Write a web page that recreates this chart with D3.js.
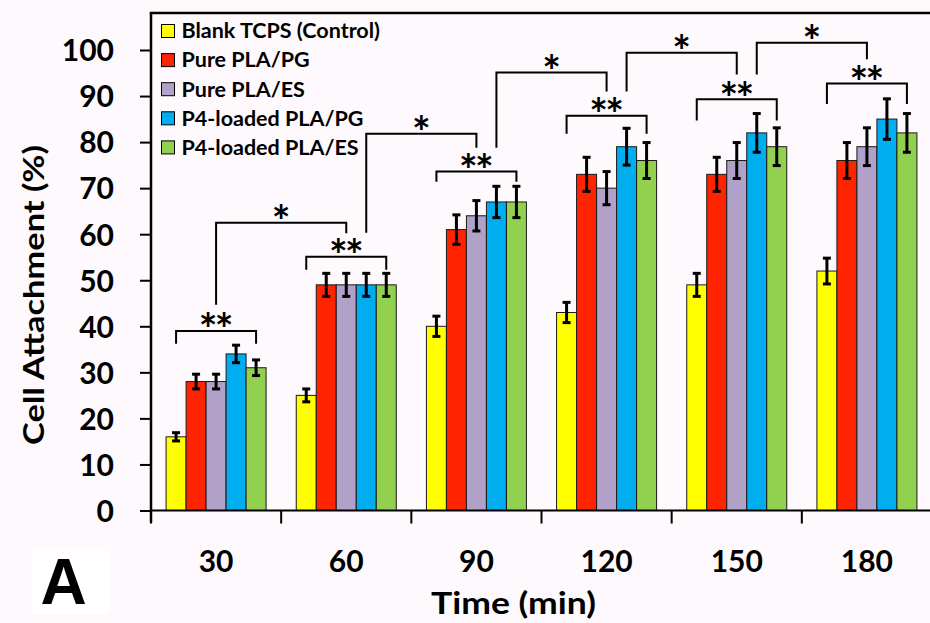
<!DOCTYPE html>
<html>
<head>
<meta charset="utf-8">
<script src="https://cdn.jsdelivr.net/npm/d3@7"></script>
<style>
  html, body { margin: 0; padding: 0; background: #fdf9fc; }
  svg { display: block; }
  text { font-family: "Lato", "Open Sans", sans-serif; font-weight: 700; fill: #000; }
</style>
</head>
<body>
<svg id="chart" width="930" height="623"></svg>
<script>
// Time points (min)
const categories = ["30", "60", "90", "120", "150", "180"];

// Groups
const seriesNames = ["Blank TCPS (Control)", "Pure PLA/PG", "Pure PLA/ES", "P4-loaded PLA/PG", "P4-loaded PLA/ES"];
const seriesColors = ["#ffff00", "#fe2400", "#b1a0c7", "#00adee", "#92d050"];

// Mean cell attachment (%)
const blankTCPS = [16, 25, 40, 43, 49, 52];
const purePLAPG = [28, 49, 61, 73, 73, 76];
const purePLAES = [28, 49, 64, 70, 76, 79];
const p4PLAPG   = [34, 49, 67, 79, 82, 85];
const p4PLAES   = [31, 49, 67, 76, 79, 82];

// Standard deviations
const blankErr = [0.9, 1.4, 2.2, 2.2, 2.5, 2.8];
const pgErr    = [1.6, 2.5, 3.2, 3.7, 3.7, 3.9];
const esErr    = [1.6, 2.5, 3.3, 3.6, 3.9, 4.1];
const p4pgErr  = [1.9, 2.5, 3.4, 4.0, 4.2, 4.4];
const p4esErr  = [1.7, 2.5, 3.4, 3.9, 4.1, 4.2];

const yTicks = [0, 10, 20, 30, 40, 50, 60, 70, 80, 90, 100];

// Within-group significance (**): bracket level and leg end, in % units
const groupSigLevel = [39.0, 55.1, 73.6, 85.7, 89.3, 92.7];
const groupSigLeg   = [36.2, 52.3, 71.4, 81.8, 84.7, 88.3];

// Between-time significance (*): from time i to time i+1
const pairFrom       = ["30", "60", "90", "120", "150"];
const pairTo         = ["60", "90", "120", "150", "180"];
const pairFromSeries = ["Pure PLA/ES", "P4-loaded PLA/PG", "P4-loaded PLA/PG", "P4-loaded PLA/PG", "P4-loaded PLA/PG"];
const pairLevel      = [62.5, 81.8, 95.1, 99.4, 101.6];
const pairLegFrom    = [44.7, 60.3, 78.8, 91.0, 94.7];
const pairLegTo      = [60.2, 78.8, 91.0, 94.7, 98.0];

const valueSets = [blankTCPS, purePLAPG, purePLAES, p4PLAPG, p4PLAES];
const errorSets = [blankErr, pgErr, esErr, p4pgErr, p4esErr];

const svg = d3.select("#chart");
const W = 930;
const plotLeft = 151, frameTop = 13, axisY = 510.5;

const y = d3.scaleLinear().domain([0, 100]).range([axisY, 50]);
const x0 = d3.scaleBand().domain(categories).range([plotLeft, 932]).paddingInner(0).paddingOuter(0);
const x1 = d3.scaleBand().domain(seriesNames).range([0, x0.bandwidth()]).paddingInner(0).paddingOuter(0.754);
const color = d3.scaleOrdinal().domain(seriesNames).range(seriesColors);
const cx = (cat, s) => x0(cat) + x1(s) + x1.bandwidth() / 2;

const rows = [];
categories.forEach((c, i) => {
  seriesNames.forEach((s, j) => {
    rows.push({ cat: c, series: s, value: valueSets[j][i], err: errorSets[j][i] });
  });
});

// Bars
svg.append("g").selectAll("rect").data(rows).join("rect")
  .attr("x", d => x0(d.cat) + x1(d.series))
  .attr("y", d => y(d.value))
  .attr("width", x1.bandwidth())
  .attr("height", d => y(0) - y(d.value))
  .attr("fill", d => color(d.series))
  .attr("stroke", "#1a1a1a")
  .attr("stroke-width", 1);

// Error bars
const eb = svg.append("g").attr("stroke", "#000").attr("stroke-width", 3);
rows.forEach(d => {
  const c = cx(d.cat, d.series);
  eb.append("line").attr("x1", c).attr("x2", c).attr("y1", y(d.value - d.err)).attr("y2", y(d.value + d.err));
  [d.value - d.err, d.value + d.err].forEach(v => {
    eb.append("line").attr("x1", c - 4).attr("x2", c + 4).attr("y1", y(v)).attr("y2", y(v));
  });
});

// Significance brackets
const sig = svg.append("g");
const starSize = 44, starPitch = 16;
const probe = sig.append("text").attr("font-size", starSize).text("*");
const starAdvance = probe.node().getComputedTextLength();
probe.remove();
function stars(xc, level, count) {
  const total = starAdvance + (count - 1) * starPitch;
  sig.append("text")
    .attr("x", xc - total / 2)
    .attr("y", y(level) + 14.5)
    .attr("font-size", starSize)
    .attr("letter-spacing", count > 1 ? starPitch - starAdvance : 0)
    .text("*".repeat(count));
}
categories.forEach((c, i) => {
  const xa = cx(c, seriesNames[0]), xb = cx(c, seriesNames[4]);
  const p = d3.path();
  p.moveTo(xa, y(groupSigLeg[i])); p.lineTo(xa, y(groupSigLevel[i]));
  p.lineTo(xb, y(groupSigLevel[i])); p.lineTo(xb, y(groupSigLeg[i]));
  sig.append("path").attr("d", p.toString()).attr("fill", "none").attr("stroke", "#000").attr("stroke-width", 2);
  stars((xa + xb) / 2, groupSigLevel[i], 2);
});
pairFrom.forEach((c, i) => {
  const xa = cx(c, pairFromSeries[i]), xb = cx(pairTo[i], "Pure PLA/ES");
  const p = d3.path();
  p.moveTo(xa, y(pairLegFrom[i])); p.lineTo(xa, y(pairLevel[i]));
  p.lineTo(xb, y(pairLevel[i])); p.lineTo(xb, y(pairLegTo[i]));
  sig.append("path").attr("d", p.toString()).attr("fill", "none").attr("stroke", "#000").attr("stroke-width", 2);
  stars((xa + xb) / 2, pairLevel[i], 1);
});

// Y axis
const yAxis = svg.append("g").attr("transform", `translate(${plotLeft},0)`)
  .call(d3.axisLeft(y).tickValues(yTicks).tickSize(11).tickPadding(26).tickFormat(d3.format("d")));
yAxis.select(".domain").remove();
yAxis.selectAll(".tick line").attr("stroke", "#000").attr("stroke-width", 2);
yAxis.selectAll(".tick text").attr("font-size", 30).attr("dy", "0.36em")
  .style("font-family", "Lato, sans-serif").style("font-weight", 700);

// X axis: labels at group centres, ticks at group boundaries
const xAxis = svg.append("g").attr("transform", `translate(0,${axisY})`)
  .call(d3.axisBottom(x0).tickSize(0).tickPadding(0));
xAxis.select(".domain").remove();
xAxis.selectAll(".tick text").attr("font-size", 30).attr("y", 61).attr("dy", 0)
  .style("font-family", "Lato, sans-serif").style("font-weight", 700);
const bounds = categories.map(c => x0(c)).concat([x0.range()[1]]);
svg.append("g").selectAll("line").data(bounds).join("line")
  .attr("x1", d => d).attr("x2", d => d)
  .attr("y1", axisY).attr("y2", axisY + 13)
  .attr("stroke", "#000").attr("stroke-width", 2);

// Frame lines
svg.append("line").attr("x1", plotLeft).attr("x2", W).attr("y1", axisY).attr("y2", axisY)
  .attr("stroke", "#000").attr("stroke-width", 2);
svg.append("line").attr("x1", plotLeft).attr("x2", plotLeft).attr("y1", frameTop).attr("y2", axisY + 12)
  .attr("stroke", "#000").attr("stroke-width", 2.5);
svg.append("line").attr("x1", plotLeft - 1.25).attr("x2", W).attr("y1", frameTop).attr("y2", frameTop)
  .attr("stroke", "#000").attr("stroke-width", 2.5);

// Legend
const lg = svg.append("g");
seriesNames.forEach((s, i) => {
  lg.append("rect").attr("x", 161.5).attr("y", 24.5 + i * 29.1).attr("width", 13).attr("height", 13)
    .attr("fill", color(s)).attr("stroke", "#000").attr("stroke-width", 1);
  lg.append("text").attr("x", 181.5).attr("y", 38.3 + i * 29.1).attr("font-size", 21.5).text(s);
});

// Axis titles
svg.append("text")
  .attr("transform", "translate(44,295) rotate(-90)")
  .attr("text-anchor", "middle").attr("font-size", 29)
  .attr("textLength", 300).attr("lengthAdjust", "spacingAndGlyphs")
  .text("Cell Attachment (%)");
svg.append("text")
  .attr("x", 513.5).attr("y", 614)
  .attr("text-anchor", "middle").attr("font-size", 30)
  .attr("textLength", 165).attr("lengthAdjust", "spacingAndGlyphs")
  .text("Time (min)");

// Panel label
svg.append("rect").attr("x", 32).attr("y", 551).attr("width", 77).attr("height", 63).attr("fill", "#ffffff");
svg.append("text").attr("x", 63.7).attr("y", 604).attr("text-anchor", "middle")
  .style("font-family", "'Liberation Sans', Arial, sans-serif").attr("font-size", 64).text("A");
</script>
</body>
</html>
